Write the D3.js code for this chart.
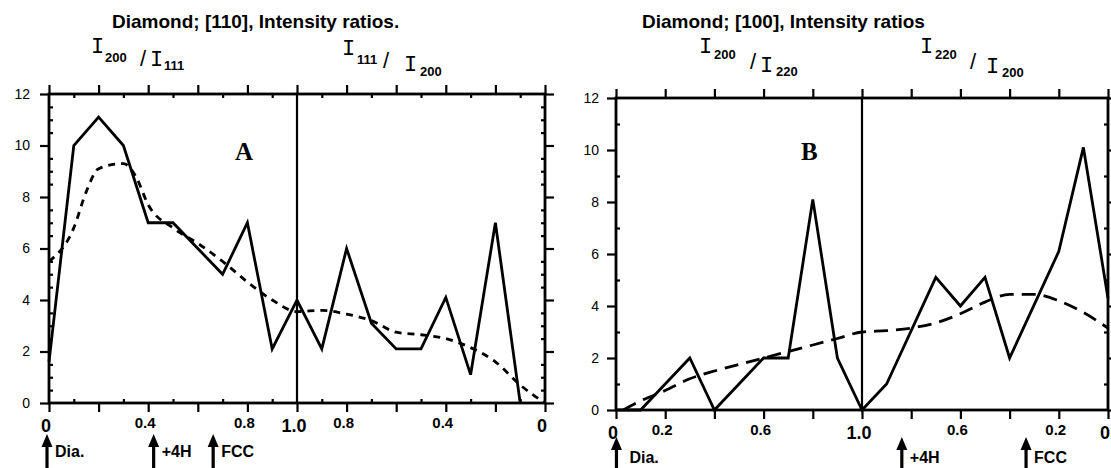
<!DOCTYPE html>
<html>
<head>
<meta charset="utf-8">
<script src="https://cdn.jsdelivr.net/npm/d3@7"></script>
<style>
  body { margin: 0; background: #fff; }
  svg { display: block; }
  text { fill: #000; }
</style>
</head>
<body>
<div id="chart"></div>
<script>
// x runs 0..2 : left half is the first ratio (0 -> 1.0), right half the inverse ratio (1.0 -> 0)
var majorX = [0, 0.2, 0.4, 0.6, 0.8, 1.0, 1.2, 1.4, 1.6, 1.8, 2.0];
var minorX = [0.1, 0.3, 0.5, 0.7, 0.9, 1.1, 1.3, 1.5, 1.7, 1.9];
var yMajor = [0, 2, 4, 6, 8, 10, 12];
var yMinorA = [0.5, 1, 1.5, 2.5, 3, 3.5, 4.5, 5, 5.5, 6.5, 7, 7.5, 8.5, 9, 9.5, 10.5, 11, 11.5];
var yMinorB = [1, 3, 5, 7, 9, 11];

// panel A : [110]
var aSolidX = [0, 0.1, 0.2, 0.3, 0.4, 0.5, 0.6, 0.7, 0.8, 0.9, 1.0, 1.1, 1.2, 1.3, 1.4, 1.5, 1.6, 1.7, 1.8, 1.9];
var aSolidY = [1.6, 10, 11.1, 10, 7, 7, 6, 5, 7, 2.1, 4, 2.1, 6, 3.1, 2.1, 2.1, 4.1, 1.1, 7, 0];
var aDashX = [0, 0.1, 0.15, 0.2, 0.3, 0.35, 0.4, 0.5, 0.6, 0.7, 0.8, 0.9, 1.0, 1.1, 1.2, 1.3, 1.4, 1.5, 1.6, 1.7, 1.8, 1.9, 2.0];
var aDashY = [5.5, 6.8, 8.2, 9.1, 9.3, 8.8, 7.7, 6.8, 6.2, 5.5, 4.7, 4.0, 3.55, 3.6, 3.45, 3.2, 2.75, 2.65, 2.5, 2.15, 1.6, 0.7, 0];
var aTickPos = [0, 0.4, 0.8, 1.0, 1.2, 1.6, 2.0];
var aTickText = ["0", "0.4", "0.8", "1.0", "0.8", "0.4", "0"];
var aArrowPos = [0, 0.43, 0.67];
var aArrowText = ["Dia.", "+4H", "FCC"];

// panel B : [100]
var bSolidX = [0, 0.1, 0.2, 0.3, 0.4, 0.5, 0.6, 0.7, 0.8, 0.9, 1.0, 1.1, 1.3, 1.4, 1.5, 1.6, 1.8, 1.9, 2.0];
var bSolidY = [0, 0, 1, 2, 0, 1, 2, 2, 8.1, 2, 0, 1, 5.1, 4, 5.1, 2, 6.1, 10.1, 4.3];
var bDashX = [0.03, 0.1, 0.2, 0.3, 0.4, 0.5, 0.6, 0.7, 0.8, 0.9, 1.0, 1.1, 1.2, 1.3, 1.4, 1.5, 1.6, 1.7, 1.8, 1.9, 2.0];
var bDashY = [0, 0.35, 0.75, 1.2, 1.5, 1.75, 2.0, 2.25, 2.5, 2.75, 3.0, 3.05, 3.15, 3.35, 3.7, 4.15, 4.45, 4.45, 4.2, 3.75, 3.15];
var bTickPos = [0, 0.2, 0.6, 1.0, 1.4, 1.8, 2.0];
var bTickText = ["0", "0.2", "0.6", "1.0", "0.6", "0.2", "0"];
var bArrowPos = [0.01, 1.17, 1.675];
var bArrowText = ["Dia.", "+4H", "FCC"];

var W = 1111, H = 468;
var svg = d3.select("#chart").append("svg").attr("width", W).attr("height", H);

var panels = [
  { left: 49, right: 545, top: 94, bottom: 403, yMinor: yMinorA, xMinor: true,
    solidX: aSolidX, solidY: aSolidY, dashX: aDashX, dashY: aDashY, dash: "7,6",
    tickPos: aTickPos, tickText: aTickText, arrowPos: aArrowPos, arrowText: aArrowText,
    arrowTop: 434, textY: 457, labelPad: 10,
    title: "Diamond; [110], Intensity ratios.", titleX: 112,
    letter: "A", letterX: 235,
    heads: [
      [[91, 53, "I"], [105, 62, "200"], [140, 66, "/"], [150, 66, "I"], [164, 70, "111"]],
      [[342, 55, "I"], [357, 64, "111"], [383, 68, "/"], [404, 71, "I"], [420, 76, "200"]]
    ] },
  { left: 616, right: 1108, top: 98, bottom: 410, yMinor: yMinorB, xMinor: false,
    solidX: bSolidX, solidY: bSolidY, dashX: bDashX, dashY: bDashY, dash: "14,8",
    tickPos: bTickPos, tickText: bTickText, arrowPos: bArrowPos, arrowText: bArrowText,
    arrowTop: 437, textY: 463, labelPad: 8,
    title: "Diamond; [100], Intensity ratios", titleX: 642,
    letter: "B", letterX: 801,
    heads: [
      [[699, 53, "I"], [714, 59, "200"], [750, 69, "/"], [760, 72, "I"], [776, 76, "220"]],
      [[920, 53, "I"], [935, 59, "220"], [970, 69, "/"], [986, 73, "I"], [1002, 77, "200"]]
    ] }
];

panels.forEach(function(p){
  var x = d3.scaleLinear().domain([0, 2]).range([p.left, p.right]);
  var y = d3.scaleLinear().domain([0, 12]).range([p.bottom, p.top]);
  var g = svg.append("g");

  function axis(gen, tx, ty){
    var a = g.append("g").attr("transform", "translate(" + tx + "," + ty + ")").call(gen);
    a.select(".domain").remove();
    a.selectAll(".tick line").attr("stroke", "#000").attr("stroke-width", 2.2);
    return a;
  }

  // top and bottom ticks
  axis(d3.axisTop(x).tickValues(majorX).tickSize(9).tickFormat(""), 0, p.top);
  axis(d3.axisBottom(x).tickValues(majorX).tickSize(9).tickFormat(""), 0, p.bottom);
  if (p.xMinor) {
    axis(d3.axisBottom(x).tickValues(minorX).tickSize(4).tickFormat(""), 0, p.top);
    axis(d3.axisTop(x).tickValues(minorX).tickSize(4).tickFormat(""), 0, p.bottom);
  }

  // left and right ticks
  var ly = axis(d3.axisLeft(y).tickValues(yMajor).tickSize(9).tickPadding(p.labelPad), p.left, 0);
  ly.selectAll("text").attr("font-family", "Liberation Sans, Arial, sans-serif").attr("font-size", 14).attr("fill", "#000");
  axis(d3.axisRight(y).tickValues(p.yMinor).tickSize(4).tickFormat(""), p.left, 0);
  axis(d3.axisRight(y).tickValues(yMajor).tickSize(9).tickFormat(""), p.right, 0);
  axis(d3.axisLeft(y).tickValues(p.yMinor).tickSize(4).tickFormat(""), p.right, 0);

  // frame
  g.append("rect")
    .attr("x", p.left).attr("y", p.top)
    .attr("width", p.right - p.left).attr("height", p.bottom - p.top)
    .attr("fill", "none").attr("stroke", "#000").attr("stroke-width", 2.8);

  // centre line at ratio 1.0
  g.append("line")
    .attr("x1", x(1)).attr("x2", x(1)).attr("y1", p.top).attr("y2", p.bottom)
    .attr("stroke", "#000").attr("stroke-width", 2.2);

  // x tick labels
  g.selectAll(".xl").data(p.tickPos).enter().append("text")
    .attr("x", function(d){ return x(d) - 3; })
    .attr("y", function(d, i){ var big = p.tickText[i] == "0" || p.tickText[i] == "1.0"; return p.bottom + (big ? 29 : 25); })
    .attr("text-anchor", "middle")
    .attr("font-family", "Liberation Sans, Arial, sans-serif")
    .attr("font-weight", "bold")
    .attr("font-size", function(d, i){ var t = p.tickText[i]; return (t == "0" || t == "1.0") ? 18 : 15; })
    .text(function(d, i){ return p.tickText[i]; });

  // data lines
  var solid = p.solidX.map(function(d, i){ return [d, p.solidY[i]]; });
  var dashed = p.dashX.map(function(d, i){ return [d, p.dashY[i]]; });

  g.append("path").datum(dashed)
    .attr("d", d3.line().x(function(d){ return x(d[0]); }).y(function(d){ return y(d[1]); }).curve(d3.curveMonotoneX))
    .attr("fill", "none").attr("stroke", "#000").attr("stroke-width", 2.8)
    .attr("stroke-dasharray", p.dash);

  g.append("path").datum(solid)
    .attr("d", d3.line().x(function(d){ return x(d[0]); }).y(function(d){ return y(d[1]); }))
    .attr("fill", "none").attr("stroke", "#000").attr("stroke-width", 2.8)
    .attr("stroke-linejoin", "miter");

  // panel letter
  g.append("text").attr("x", p.letterX).attr("y", 160)
    .attr("font-family", "Liberation Serif, Times New Roman, serif")
    .attr("font-weight", "bold").attr("font-size", 25)
    .text(p.letter);

  // title
  g.append("text").attr("x", p.titleX).attr("y", 28)
    .attr("font-family", "Liberation Sans, Arial, sans-serif")
    .attr("font-weight", "bold").attr("font-size", 19)
    .text(p.title);

  // I_hkl / I_hkl headers
  p.heads.forEach(function(h){
    h.forEach(function(t){
      var el = g.append("text").attr("x", t[0]).attr("y", t[1]).text(t[2]);
      if (t[2] == "I") el.attr("font-family", "Liberation Mono, Courier New, monospace").attr("font-size", 22);
      else if (t[2] == "/") el.attr("font-family", "Liberation Sans, Arial, sans-serif").attr("font-size", 22);
      else el.attr("font-family", "Liberation Sans, Arial, sans-serif").attr("font-weight", "bold").attr("font-size", 13);
    });
  });

  // structure arrows below the axis
  var arr = g.selectAll(".arr").data(p.arrowPos).enter().append("g")
    .attr("transform", function(d){ return "translate(" + (x(d) - 2) + "," + p.arrowTop + ")"; });
  arr.append("path").attr("d", "M0,0 L-5.5,13 L5.5,13 Z").attr("fill", "#000");
  arr.append("line").attr("x1", 0).attr("x2", 0).attr("y1", 8).attr("y2", 34)
    .attr("stroke", "#000").attr("stroke-width", 3.2);
  arr.append("text")
    .attr("x", function(d, i){ return i == 0 && p.letter == "B" ? 13 : 8; })
    .attr("y", p.textY - p.arrowTop)
    .attr("font-family", "Liberation Sans, Arial, sans-serif")
    .attr("font-weight", "bold").attr("font-size", 16)
    .text(function(d, i){ return p.arrowText[i]; });
});
</script>
</body>
</html>
